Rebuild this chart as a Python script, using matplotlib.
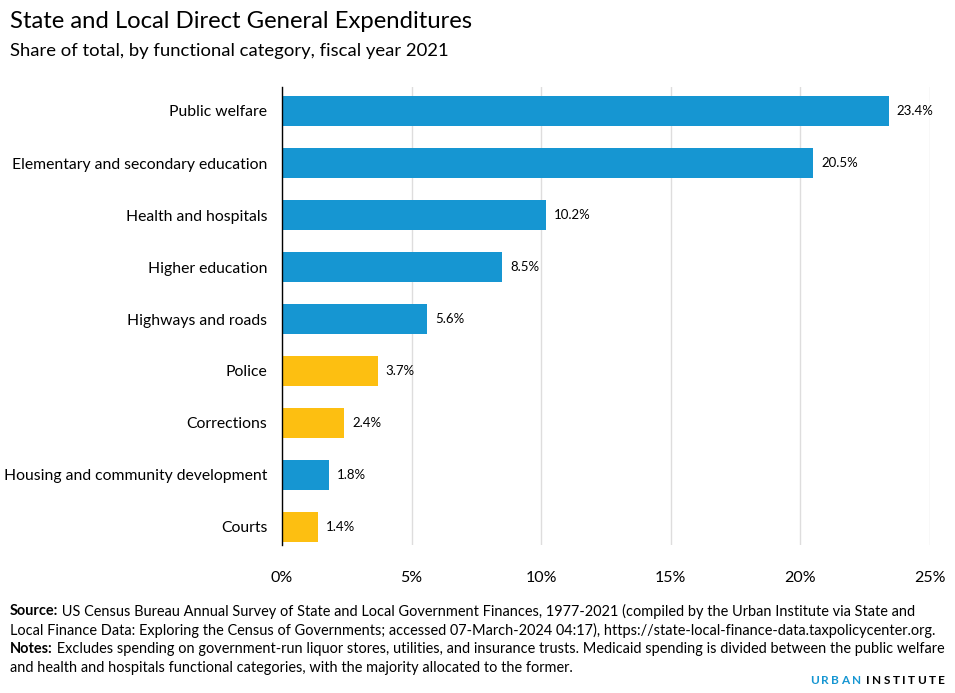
import matplotlib.pyplot as plt
import numpy as np

plt.rcParams['font.family'] = ['Lato', 'DejaVu Sans']

categories = ['Public welfare', 'Elementary and secondary education', 'Health and hospitals',
              'Higher education', 'Highways and roads', 'Police', 'Corrections',
              'Housing and community development', 'Courts']
shares = [23.4, 20.5, 10.2, 8.5, 5.6, 3.7, 2.4, 1.8, 1.4]
is_justice = [False, False, False, False, False, True, True, False, True]
xticks = [0, 5, 10, 15, 20, 25]

BLUE = '#1696d2'
YELLOW = '#fdbf11'

fig = plt.figure(figsize=(9.55, 6.93), dpi=100)
ax = fig.add_axes([282 / 955, 1 - 545 / 693, 648 / 955, 458 / 693])

y = np.arange(len(categories))
colors = [YELLOW if j else BLUE for j in is_justice]
ax.barh(y, shares, height=0.58, color=colors, zorder=3)

for yi, v in zip(y, shares):
    ax.text(v + 0.3, yi, f'{v:.1f}%', va='center', ha='left', fontsize=9.5, color='#000000')

ax.set_yticks(y)
ax.set_yticklabels(categories, fontsize=11.3)
ax.set_ylim(8 + 18 / 52, -24 / 52)
ax.set_xlim(0, 25)
ax.set_xticks(xticks)
ax.set_xticklabels([f'{t}%' for t in xticks], fontsize=11.5)
ax.tick_params(axis='both', length=0)
ax.tick_params(axis='y', pad=10.5)
ax.tick_params(axis='x', pad=19)
ax.grid(axis='x', color='#dedddd', linewidth=1, zorder=0)
for s in ['top', 'right', 'bottom']:
    ax.spines[s].set_visible(False)
ax.spines['left'].set_color('#000000')
ax.spines['left'].set_linewidth(1)
ax.spines['left'].set_zorder(4)

fig.text(10 / 955, 1 - 21 / 693, 'State and Local Direct General Expenditures',
         fontsize=17.2, va='center', ha='left')
fig.text(10 / 955, 1 - 51 / 693, 'Share of total, by functional category, fiscal year 2021',
         fontsize=13.3, va='center', ha='left')

foot_lines = [
    ('Source:', ' US Census Bureau Annual Survey of State and Local Government Finances, 1977-2021 (compiled by the Urban Institute via State and'),
    ('', 'Local Finance Data: Exploring the Census of Governments; accessed 07-March-2024 04:17), https://state-local-finance-data.taxpolicycenter.org.'),
    ('Notes:', ' Excludes spending on government-run liquor stores, utilities, and insurance trusts. Medicaid spending is divided between the public welfare'),
    ('', 'and health and hospitals functional categories, with the majority allocated to the former.'),
]
fig.canvas.draw()
renderer = fig.canvas.get_renderer()
for i, (bold, rest) in enumerate(foot_lines):
    yy = 1 - (611 + i * 19) / 693
    x0 = 10 / 955
    if bold:
        t = fig.text(x0, yy, bold, fontsize=10.45, fontweight='bold', va='center', ha='left')
        bb = t.get_window_extent(renderer)
        x0 = bb.x1 / fig.bbox.width
    fig.text(x0, yy, rest, fontsize=10.45, va='center', ha='left')

# letter-spaced logo, drawn from the right edge leftwards
logo = [('INSTITUTE', '#000000'), ('URBAN', BLUE)]
xr = 945
for word, col in logo:
    for ch in reversed(word):
        t = fig.text(xr / 955, 1 - 681 / 693, ch, fontsize=8.5, fontweight='bold',
                     va='center', ha='right', color=col)
        bb = t.get_window_extent(renderer)
        xr = bb.x0 - 2.4
    xr -= 3
fig.savefig('out.png', dpi=100)
